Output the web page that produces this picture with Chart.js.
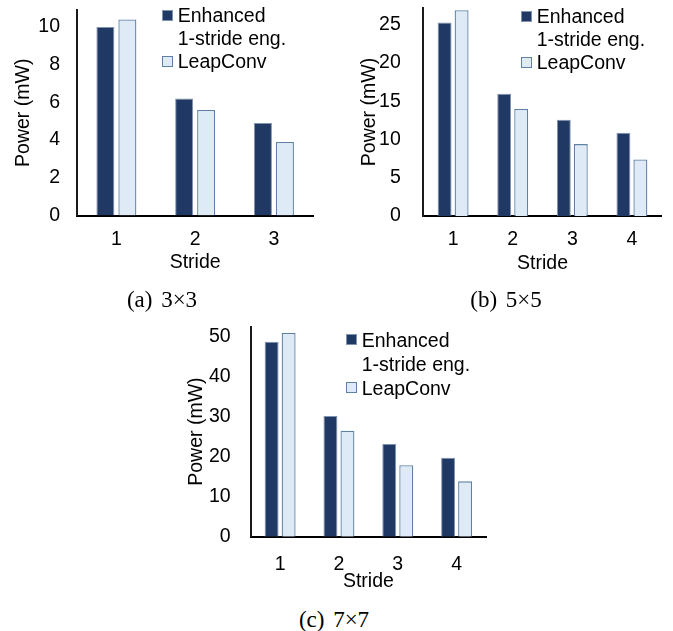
<!DOCTYPE html>
<html><head><meta charset="utf-8">
<script src="https://cdn.jsdelivr.net/npm/chart.js@4"></script>
<style>
html,body{margin:0;padding:0;background:#fff;}
body{width:673px;height:631px;position:relative;overflow:hidden;font-family:"Liberation Sans",Arial,sans-serif;}
canvas{position:absolute;}
.leg{position:absolute;font-size:19.5px;line-height:23px;color:#000;white-space:nowrap;}
.sq{position:absolute;width:11px;height:11px;box-sizing:border-box;border:1px solid;}
.cap{position:absolute;width:200px;text-align:center;font-family:"Liberation Serif","Times New Roman",serif;font-size:23px;line-height:26px;color:#000;white-space:nowrap;word-spacing:3px;}
</style></head><body>
<canvas id="c1" width="330" height="280" style="left:0px;top:0px"></canvas>
<canvas id="c2" width="333" height="280" style="left:340px;top:0px"></canvas>
<canvas id="c3" width="320" height="290" style="left:180px;top:310px"></canvas>
<div class="cap" style="left:62px;top:287px">(a) 3×3</div>
<div class="cap" style="left:406px;top:287px">(b) 5×5</div>
<div class="cap" style="left:234px;top:607px">(c) 7×7</div>
<script>
// ---- data ----
const strides3 = ['1', '2', '3'];
const strides4 = ['1', '2', '3', '4'];
const seriesNames = ['Enhanced 1-stride eng.', 'LeapConv'];
const legendLines = [['Enhanced', '1-stride eng.'], ['LeapConv']];
const enhanced3x3 = [10.0, 6.2, 4.9];
const leapconv3x3 = [10.4, 5.6, 3.9];
const enhanced5x5 = [25.3, 16.0, 12.6, 10.9];
const leapconv5x5 = [26.9, 14.0, 9.4, 7.4];
const enhanced7x7 = [48.6, 30.1, 23.1, 19.7];
const leapconv7x7 = [50.8, 26.4, 17.8, 13.8];
const yStep = [2, 5, 10];
const yMax = [10.9, 27.2, 52.4];
const yTitle = 'Power (mW)';
const xTitle = 'Stride';

// ---- styles ----
const darkFill = '#203864', darkBorder = '#8093b0';
const lightFill = '#deebf7', lightBorder = '#5f81a6';
const FONT = {family: '"Liberation Sans", Arial, sans-serif', size: 19.5, lineHeight: 1.2};

function makeChart(id, labels, e, l, step, max, cfg) {
  return new Chart(document.getElementById(id), {
    type: 'bar',
    data: {
      labels,
      datasets: [
        {label: seriesNames[0], data: e, backgroundColor: darkFill, borderColor: darkBorder, borderWidth: 1,
         barPercentage: cfg.barPct, categoryPercentage: cfg.catPct},
        {label: seriesNames[1], data: l, backgroundColor: lightFill, borderColor: lightBorder, borderWidth: 1.3,
         barPercentage: cfg.barPct, categoryPercentage: cfg.catPct}
      ]
    },
    options: {
      responsive: false, animation: false, devicePixelRatio: 1,
      layout: {padding: {left: 0, top: cfg.top, right: cfg.right, bottom: 0}},
      plugins: {legend: {display: false}, tooltip: {enabled: false}},
      scales: {
        x: {
          grid: {display: false, drawTicks: false},
          border: {display: true, color: '#000', width: 2},
          ticks: {color: '#000', font: FONT, padding: cfg.xPad, maxRotation: 0},
          title: {display: true, text: xTitle, color: '#000', font: FONT, padding: {top: 0, bottom: cfg.xTitlePad}},
          afterFit: s => { s.height = cfg.xH; s.paddingLeft = 0; s.paddingRight = 0; }
        },
        y: {
          min: 0, max: max,
          grid: {display: false, drawTicks: false},
          border: {display: true, color: '#1a1a1a', width: 2},
          ticks: {color: '#000', font: FONT, padding: cfg.yPad, stepSize: step, includeBounds: false},
          afterBuildTicks: s => { s.ticks = s.ticks.filter(t => Math.abs(t.value / step - Math.round(t.value / step)) < 1e-6); },
          title: {display: true, text: yTitle, color: '#000', font: FONT, padding: {top: cfg.yTitlePad, bottom: 0}},
          afterFit: s => { s.width = cfg.yW; s.paddingTop = 0; s.paddingBottom = 0; }
        }
      }
    }
  });
}

makeChart('c1', strides3, enhanced3x3, leapconv3x3, yStep[0], yMax[0],
  {top: 10, right: 16.7, yW: 77, xH: 64.5, yPad: 17, xPad: 12.8, yTitlePad: 11.5, xTitlePad: 5.3, barPct: 0.82, catPct: 0.558});
makeChart('c2', strides4, enhanced5x5, leapconv5x5, yStep[1], yMax[1],
  {top: 8, right: 11.3, yW: 83.3, xH: 64, yPad: 22.5, xPad: 12.3, yTitlePad: 18.3, xTitlePad: 4.8, barPct: 0.82, catPct: 0.57});
makeChart('c3', strides4, enhanced7x7, leapconv7x7, yStep[2], yMax[2],
  {top: 16.5, right: 14, yW: 70.7, xH: 63.3, yPad: 20, xPad: 16.6, yTitlePad: 5, xTitlePad: 6.6, barPct: 0.82, catPct: 0.578});

// ---- legends ----
const fills = [[darkFill, darkBorder], [lightFill, lightBorder]];
function legend(textX, sqX, top, lh) {
  let line = 0;
  legendLines.forEach((lines, i) => {
    const sq = document.createElement('div');
    sq.className = 'sq';
    sq.style.left = sqX + 'px';
    sq.style.top = (top + line * lh + 11.3 - 5.5) + 'px';
    sq.style.background = fills[i][0];
    sq.style.borderColor = fills[i][1];
    document.body.appendChild(sq);
    lines.forEach(t => {
      const d = document.createElement('div');
      d.className = 'leg';
      d.style.left = textX + 'px';
      d.style.top = (top + line * lh) + 'px';
      d.style.lineHeight = lh + 'px';
      d.textContent = t;
      document.body.appendChild(d);
      line++;
    });
  });
}
legend(177.7, 161.7, 4, 23);
legend(536.7, 521, 4.7, 23);
legend(361.7, 345.7, 328.4, 24);
</script>
</body></html>
